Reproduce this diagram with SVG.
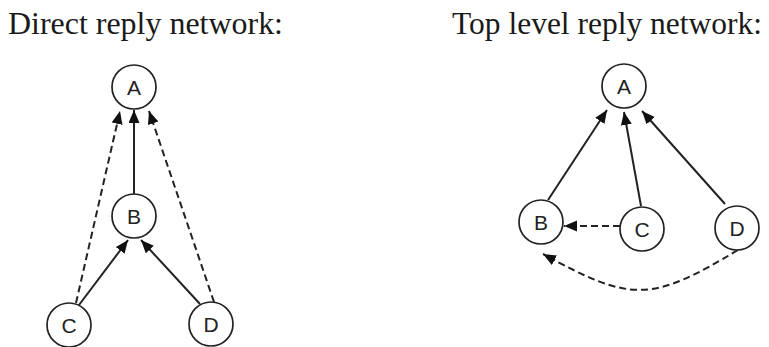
<svg xmlns="http://www.w3.org/2000/svg" width="769" height="347" viewBox="0 0 769 347">
  <defs>
    <marker id="arrow" markerUnits="userSpaceOnUse" markerWidth="14" markerHeight="12" refX="13" refY="5.5" orient="auto">
      <path d="M0,0 L13,5.5 L0,11 Z" fill="#111"/>
    </marker>
    <style>
      .title { font-family: "Liberation Serif", "Times New Roman", serif; font-size: 31px; fill: #1a1a1a; }
      .node circle { fill: #fff; stroke: #222; stroke-width: 1.7; }
      .node text { font-family: "Liberation Sans", Arial, sans-serif; font-size: 21px; fill: #222; text-anchor: middle; }
      .edge { fill: none; stroke: #222; stroke-width: 2; marker-end: url(#arrow); }
      .dashed { stroke-dasharray: 7 4; }
    </style>
  </defs>

  <rect width="769" height="347" fill="#fff"/>

  <text class="title" x="8" y="34" textLength="275" lengthAdjust="spacingAndGlyphs">Direct reply network:</text>
  <text class="title" x="452" y="34" textLength="310" lengthAdjust="spacingAndGlyphs">Top level reply network:</text>

  <!-- connectors -->
  <g id="connectors">
    <!-- direct reply network -->
    <path class="edge" d="M134,194 L134,110"/>
    <path class="edge dashed" d="M76,303 L120,111"/>
    <path class="edge dashed" d="M214,302 L149,111"/>
    <path class="edge" d="M79,305 L128,240"/>
    <path class="edge" d="M200,304 L141,240"/>
    <!-- top level reply network -->
    <path class="edge" d="M548,200 L607,110"/>
    <path class="edge" d="M641,206 L624,112"/>
    <path class="edge" d="M725,204 L642,111"/>
    <path class="edge dashed" d="M620,226 L564,226"/>
    <path class="edge dashed" d="M738,250 C650,303 631,302 543,254"/>
  </g>

  <!-- direct reply network nodes -->
  <g id="d-A" class="node"><circle cx="134" cy="87" r="22"/><text x="134" y="95">A</text></g>
  <g id="d-B" class="node"><circle cx="134" cy="216" r="22"/><text x="134" y="224">B</text></g>
  <g id="d-C" class="node"><circle cx="69" cy="325" r="22"/><text x="69" y="333">C</text></g>
  <g id="d-D" class="node"><circle cx="211" cy="324" r="22"/><text x="211" y="332">D</text></g>

  <!-- top level reply network nodes -->
  <g id="t-A" class="node"><circle cx="624" cy="86" r="22"/><text x="624" y="94">A</text></g>
  <g id="t-B" class="node"><circle cx="541" cy="222" r="22"/><text x="541" y="230">B</text></g>
  <g id="t-C" class="node"><circle cx="642" cy="229" r="22"/><text x="642" y="237">C</text></g>
  <g id="t-D" class="node"><circle cx="737" cy="228" r="22"/><text x="737" y="236">D</text></g>
</svg>
